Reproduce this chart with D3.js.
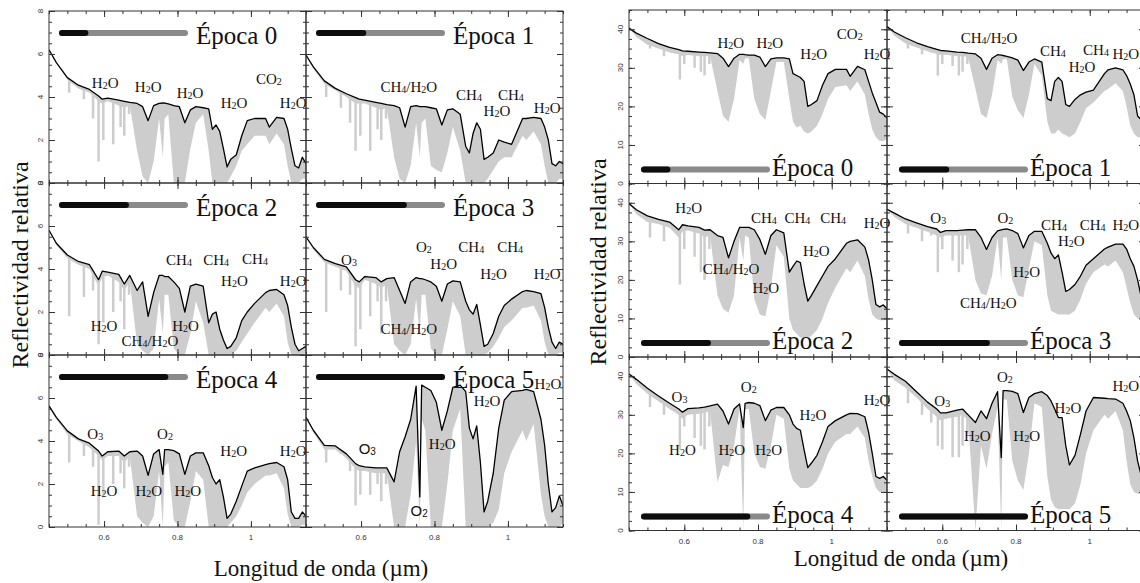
<!DOCTYPE html>
<html>
<head>
<meta charset="utf-8">
<script src="https://cdn.jsdelivr.net/npm/d3@7"></script>
<style>
  body { margin: 0; background: #fff; }
</style>
</head>
<body>
<div id="chart"></div>
<script>
var width = 1140, height = 583;

// wavelength grid (µm) shared by every spectrum
const wl = [0.45, 0.47, 0.50, 0.53, 0.56, 0.585, 0.595, 0.61, 0.64, 0.655, 0.67, 0.69, 0.705, 0.72, 0.735, 0.75, 0.76, 0.765, 0.775, 0.79,
            0.805, 0.82, 0.835, 0.85, 0.87, 0.885, 0.895, 0.905, 0.915, 0.925, 0.935, 0.945, 0.96, 0.975, 0.99, 1.01, 1.04, 1.05, 1.07, 1.09,
            1.10, 1.11, 1.12, 1.13, 1.14, 1.15];

const epochNames = ["Época 0", "Época 1", "Época 2", "Época 3", "Época 4", "Época 5"];
const epochDone = [0.19, 0.36, 0.52, 0.69, 0.84, 1.0]; // black part of the time bar

// left figure: smoothed spectrum (black) and low envelope of the high-res one (grey)
const leftLine0 = [6.2, 5.6, 4.9, 4.55, 4.35, 4.05, 3.9, 3.95, 3.85, 3.8, 3.75, 3.7, 3.55, 2.9, 3.6, 3.7, 3.72, 3.72, 3.68, 3.6, 3.55, 2.8, 3.4, 3.55, 3.5, 3.45, 2.5, 2.7, 2.4, 1.6, 0.75, 1.1, 1.3, 2.2, 2.9, 3.0, 3.0, 2.6, 3.05, 3.0, 2.5, 1.6, 0.8, 0.7, 1.2, 0.9];
const leftLow0  = [6.2, 5.6, 4.8, 4.4, 4.2, 3.8, 3.7, 3.8, 3.6, 3.5, 3.6, 1.5, 0.3, 0.0, 1.0, 3.0, 1.2, 3.0, 3.2, 0.0, 0.0, 0.0, 1.6, 2.8, 3.2, 1.5, 0.0, 0.0, 0.0, 0.0, 0.0, 0.3, 0.8, 1.5, 1.8, 2.2, 2.2, 1.8, 2.3, 1.8, 0.8, 0.0, 0.0, 0.0, 0.2, 0.2];
const leftLine1 = [5.95, 5.4, 4.75, 4.4, 4.15, 3.97, 3.9, 3.85, 3.75, 3.7, 3.65, 3.6, 3.5, 2.6, 3.55, 3.6, 3.55, 3.55, 3.55, 3.5, 3.45, 2.7, 3.4, 3.45, 3.2, 1.7, 1.4, 2.3, 2.8, 2.5, 1.1, 1.2, 1.4, 2.0, 1.9, 1.8, 3.0, 3.0, 3.05, 3.0, 2.6, 2.0, 0.9, 0.8, 1.0, 0.9];
const leftLow1  = [5.95, 5.3, 4.6, 4.3, 4.0, 3.7, 3.7, 3.7, 3.5, 3.4, 3.5, 1.2, 0.2, 0.0, 0.8, 2.8, 1.2, 2.8, 3.0, 0.8, 0.6, 0.5, 1.4, 2.6, 1.5, 0.0, 0.0, 0.0, 0.0, 0.0, 0.0, 0.2, 0.6, 1.0, 1.2, 1.2, 2.2, 2.0, 2.4, 1.8, 0.8, 0.0, 0.0, 0.0, 0.2, 0.2];
const leftLine2 = [5.8, 5.2, 4.65, 4.35, 4.2, 3.5, 3.9, 3.85, 3.75, 3.3, 3.7, 3.0, 3.4, 1.8, 2.9, 3.7, 3.7, 3.65, 3.65, 3.4, 3.1, 2.0, 3.2, 3.3, 3.2, 1.5, 1.9, 2.0, 1.2, 0.7, 0.3, 0.4, 0.8, 1.6, 2.0, 2.4, 2.9, 3.0, 3.05, 2.8, 2.3, 1.3, 0.5, 0.2, 0.3, 0.4];
const leftLow2  = [5.8, 5.1, 4.5, 4.2, 4.0, 3.2, 3.6, 3.7, 3.4, 3.0, 3.4, 0.5, 0.2, 0.0, 0.3, 2.6, 1.0, 2.8, 2.8, 0.3, 0.0, 0.0, 1.0, 2.5, 1.5, 0.0, 0.0, 0.0, 0.0, 0.0, 0.0, 0.0, 0.2, 0.6, 1.0, 1.5, 2.2, 2.0, 2.4, 1.8, 0.6, 0.0, 0.0, 0.0, 0.0, 0.1];
const leftLine3 = [5.5, 5.0, 4.45, 4.25, 4.1, 3.5, 3.4, 3.65, 3.6, 3.4, 3.55, 3.6, 3.0, 2.4, 3.4, 3.6, 3.55, 3.55, 3.5, 3.4, 3.2, 2.5, 3.3, 3.45, 3.4, 2.5, 2.1, 1.9, 2.35, 1.4, 0.4, 0.5, 1.0, 1.8, 2.3, 2.6, 2.95, 3.0, 2.95, 2.85, 2.2, 1.3, 0.6, 0.3, 0.6, 0.5];
const leftLow3  = [5.5, 4.9, 4.3, 4.1, 3.9, 3.2, 3.1, 3.5, 3.3, 3.1, 3.3, 0.5, 0.2, 0.0, 0.5, 2.6, 1.0, 2.8, 2.8, 0.3, 0.0, 0.0, 1.2, 2.5, 1.8, 0.0, 0.0, 0.0, 0.0, 0.0, 0.0, 0.1, 0.4, 0.8, 1.3, 1.6, 2.2, 2.2, 2.3, 1.6, 0.6, 0.0, 0.0, 0.0, 0.1, 0.1];
const leftLine4 = [5.63, 5.1, 4.47, 4.1, 3.9, 3.53, 3.3, 3.5, 3.53, 3.3, 3.5, 3.53, 3.3, 2.4, 3.4, 3.6, 2.45, 3.6, 3.6, 3.55, 3.4, 2.45, 3.3, 3.45, 3.45, 2.85, 2.3, 2.0, 2.2, 1.4, 0.4, 0.6, 1.2, 1.9, 2.6, 2.75, 2.9, 2.95, 3.0, 2.8, 2.2, 0.7, 0.4, 0.4, 0.7, 0.5];
const leftLow4  = [5.63, 5.0, 4.3, 4.0, 3.7, 3.3, 3.1, 3.3, 3.3, 3.0, 3.3, 0.5, 0.2, 0.0, 0.5, 2.6, 0.0, 2.8, 3.0, 0.3, 0.0, 0.0, 1.2, 2.6, 2.2, 0.0, 0.0, 0.0, 0.0, 0.0, 0.0, 0.2, 0.5, 1.0, 1.6, 2.0, 2.4, 2.4, 2.5, 1.8, 0.6, 0.0, 0.0, 0.0, 0.1, 0.1];
const leftLine5 = [5.1, 4.5, 3.8, 3.77, 3.4, 2.95, 2.85, 2.8, 2.75, 2.75, 2.75, 2.1, 3.5, 4.2, 5.0, 6.55, 1.4, 6.6, 6.5, 6.35, 5.8, 4.5, 5.4, 6.5, 6.6, 6.3, 4.6, 4.1, 4.7, 3.0, 0.7, 1.2, 2.5, 4.6, 5.9, 6.3, 6.35, 6.4, 6.3, 5.0, 3.8, 2.0, 0.7, 0.9, 1.45, 1.0];
const leftLow5  = [5.1, 4.4, 3.6, 3.6, 3.2, 2.7, 2.6, 2.6, 2.5, 2.5, 2.5, 0.0, 0.0, 0.0, 1.5, 4.0, 0.0, 5.0, 4.5, 0.0, 0.0, 0.0, 2.0, 4.5, 5.5, 0.0, 0.0, 0.0, 0.0, 0.0, 0.0, 0.0, 0.2, 0.8, 2.5, 3.5, 4.5, 4.0, 4.8, 1.5, 0.5, 0.0, 0.0, 0.0, 0.0, 0.2];

// narrow absorption lines of the high-res spectrum: wavelengths and depth per epoch
const leftSpikeWl = [0.505, 0.545, 0.57, 0.585, 0.598, 0.625, 0.645, 0.655, 0.668];
const leftSpike0 = [4.2, 3.9, 3.0, 1.0, 2.0, 1.8, 2.6, 2.2, 3.2];
const leftSpike1 = [4.0, 3.5, 2.8, 1.5, 2.2, 1.5, 2.5, 2.0, 3.0];
const leftSpike2 = [1.8, 2.7, 3.0, 0.5, 1.5, 2.0, 2.5, 1.2, 2.8];
const leftSpike3 = [2.0, 3.0, 2.8, 0.4, 1.2, 1.8, 2.5, 1.0, 2.5];
const leftSpike4 = [3.0, 3.3, 2.8, 0.1, 1.5, 2.0, 2.5, 1.8, 2.8];
const leftSpike5 = [3.0, 3.4, 2.6, 1.0, 1.5, 1.5, 2.0, 1.2, 2.0];

// right figure
const rightLine0 = [40.3, 39.0, 37.6, 36.3, 35.3, 34.7, 34.4, 34.3, 34.1, 34.0, 33.9, 33.7, 32.5, 30.3, 32.5, 33.5, 33.5, 33.4, 33.3, 33.3, 32.8, 30.3, 32.3, 32.6, 32.6, 32.3, 28.5, 28.0, 27.5, 26.5, 20.0, 20.5, 21.5, 25.5, 28.5, 29.6, 29.6, 27.8, 30.4, 29.5, 26.5, 23.5, 21.0, 18.5, 18.0, 17.0];
const rightLow0  = [40.3, 38.0, 36.0, 35.0, 34.0, 33.5, 33.0, 33.3, 33.0, 33.0, 33.0, 24.0, 17.5, 16.0, 22.0, 32.0, 31.0, 32.5, 32.5, 22.0, 18.0, 16.5, 24.0, 31.5, 31.5, 22.0, 16.0, 14.5, 15.0, 13.5, 13.0, 13.5, 15.0, 18.0, 22.0, 25.0, 25.5, 24.0, 26.5, 23.0, 18.0, 14.0, 12.0, 11.0, 11.0, 11.5];
const rightLine1 = [40.7, 39.3, 37.8, 36.5, 35.5, 34.8, 34.5, 34.4, 34.1, 34.0, 33.8, 33.6, 32.5, 29.6, 32.5, 33.4, 33.3, 33.2, 33.0, 32.6, 32.0, 29.3, 31.5, 32.3, 31.5, 22.0, 21.5, 26.5, 27.5, 26.5, 20.5, 20.0, 21.8, 23.0, 23.7, 24.2, 28.5, 29.5, 30.0, 29.5, 28.0, 25.8, 23.0, 17.5, 16.5, 16.0];
const rightLow1  = [40.7, 38.3, 36.3, 35.3, 34.3, 33.6, 33.3, 33.4, 33.0, 33.0, 32.8, 24.5, 18.0, 17.0, 23.0, 32.0, 31.0, 32.3, 32.3, 22.5, 19.0, 17.0, 23.0, 31.0, 28.0, 16.0, 13.0, 13.0, 14.0, 13.0, 12.5, 12.0, 13.0, 16.0, 19.5, 21.0, 24.0, 24.5, 26.0, 24.0, 20.0, 15.0, 13.0, 12.0, 12.0, 12.0];
const rightLine2 = [39.8, 38.2, 36.6, 35.7, 35.0, 33.0, 34.3, 34.0, 33.6, 32.9, 33.0, 31.5, 31.0, 25.7, 30.0, 33.6, 33.6, 33.6, 33.6, 33.0, 30.5, 26.6, 31.5, 33.0, 32.2, 22.0, 23.5, 24.9, 24.5, 19.0, 14.5, 16.0, 18.5, 21.0, 23.5, 25.5, 29.5, 30.0, 30.4, 28.5, 25.2, 20.0, 13.6, 13.0, 13.5, 12.5];
const rightLow2  = [39.8, 37.0, 35.0, 34.5, 33.5, 31.0, 32.5, 32.8, 32.0, 31.0, 31.5, 16.0, 12.5, 11.5, 16.0, 31.0, 25.0, 31.5, 31.0, 15.0, 11.0, 10.5, 18.0, 29.0, 26.0, 10.0, 7.0, 6.0, 5.0, 5.0, 5.0, 5.5, 7.0, 10.0, 14.0, 18.0, 23.0, 22.0, 25.0, 21.0, 15.0, 11.0, 10.0, 9.5, 9.5, 10.0];
const rightLine3 = [38.3, 37.3, 35.8, 34.8, 33.8, 33.2, 32.3, 32.8, 32.8, 32.9, 33.0, 33.0, 31.0, 27.9, 31.0, 32.7, 33.0, 33.1, 33.2, 32.8, 32.0, 28.3, 31.5, 32.6, 32.6, 29.5, 27.0, 25.5, 26.5, 22.0, 17.0, 17.5, 18.8, 21.0, 23.8, 25.5, 28.0, 28.5, 29.3, 29.3, 28.0, 25.5, 23.5, 20.0, 15.4, 15.0];
const rightLow3  = [38.3, 36.3, 34.5, 33.5, 32.5, 31.5, 31.0, 31.5, 31.5, 31.5, 31.5, 20.0, 16.5, 16.0, 21.0, 31.0, 20.0, 31.0, 31.0, 20.0, 16.0, 15.5, 23.0, 30.0, 29.0, 16.0, 12.0, 11.5, 11.0, 11.0, 11.0, 11.0, 12.0, 15.0, 19.0, 22.0, 24.0, 23.5, 25.0, 22.0, 18.0, 14.0, 11.0, 10.0, 10.0, 10.0];
const rightLine4 = [40.6, 39.2, 36.9, 34.9, 33.0, 31.5, 30.7, 31.6, 31.8, 32.0, 32.3, 32.8, 31.0, 27.6, 31.5, 32.8, 26.7, 33.0, 33.2, 33.0, 32.4, 28.5, 31.2, 31.9, 31.9, 30.0, 27.6, 26.5, 26.0, 21.0, 16.3, 17.5, 19.5, 23.0, 27.0, 28.5, 30.0, 30.4, 30.3, 29.5, 25.5, 20.0, 14.0, 13.5, 14.0, 13.0];
const rightLow4  = [40.6, 38.0, 35.5, 33.5, 31.5, 30.0, 29.0, 30.0, 30.3, 30.5, 31.0, 12.5, 17.0, 16.5, 22.0, 31.5, 0.0, 31.5, 31.5, 20.0, 16.5, 16.0, 22.0, 30.0, 29.0, 16.0, 13.0, 12.0, 11.0, 11.0, 11.0, 11.5, 13.0, 16.0, 20.0, 23.0, 25.0, 25.0, 27.0, 24.0, 18.0, 14.0, 11.0, 10.0, 10.0, 10.0];
const rightLine5 = [41.9, 40.5, 38.7, 36.0, 33.3, 31.5, 30.5, 30.5, 31.2, 31.5, 30.0, 28.0, 31.0, 29.0, 33.0, 36.0, 18.9, 36.3, 36.3, 36.1, 35.5, 30.6, 34.5, 35.5, 36.0, 35.0, 33.6, 31.5, 29.3, 29.3, 22.0, 17.0, 19.5, 25.0, 31.0, 34.5, 34.3, 34.2, 34.1, 33.0, 31.0, 28.5, 24.0, 18.0, 14.1, 14.0];
const rightLow5  = [41.9, 39.0, 37.0, 34.5, 31.5, 29.5, 28.5, 29.0, 29.5, 30.0, 28.5, 0.0, 22.0, 16.0, 25.0, 32.0, 0.0, 34.0, 34.0, 18.0, 13.0, 10.5, 20.0, 33.0, 32.0, 14.0, 8.0, 6.0, 5.5, 5.5, 5.5, 5.5, 7.0, 12.0, 20.0, 26.0, 30.0, 29.0, 31.0, 26.0, 18.0, 12.0, 10.0, 9.5, 9.5, 10.0];

const rightSpikeWl = [0.507, 0.545, 0.57, 0.588, 0.60, 0.628, 0.645, 0.655, 0.668];
const rightSpike0 = [35.0, 33.0, 34.5, 27.0, 31.0, 30.0, 29.0, 28.0, 31.0];
const rightSpike1 = [35.0, 33.5, 34.0, 28.0, 31.0, 30.5, 28.0, 29.0, 31.0];
const rightSpike2 = [31.0, 30.0, 33.0, 18.8, 28.0, 26.0, 22.0, 20.0, 28.0];
const rightSpike3 = [32.0, 30.0, 31.5, 22.0, 28.0, 25.0, 22.0, 24.0, 28.0];
const rightSpike4 = [32.0, 30.0, 31.0, 21.0, 27.0, 24.0, 22.0, 21.0, 27.0];
const rightSpike5 = [33.0, 30.0, 28.0, 22.0, 21.0, 19.0, 19.0, 22.0, 25.0];

// molecule labels: [panel, wavelength, reflectivity, text]
const leftLabels = [
  [0, 0.603, 4.42, "H2O"], [0, 0.72, 4.23, "H2O"], [0, 0.834, 3.95, "H2O"], [0, 0.954, 3.49, "H2O"], [0, 1.049, 4.6, "CO2"], [0, 1.115, 3.49, "H2O"],
  [1, 0.73, 4.25, "CH4/H2O"], [1, 0.894, 3.86, "CH4"], [1, 0.97, 3.12, "H2O"], [1, 1.008, 3.86, "CH4"], [1, 1.107, 3.25, "H2O"],
  [2, 0.804, 4.19, "CH4"], [2, 0.905, 4.19, "CH4"], [2, 1.011, 4.23, "CH4"], [2, 0.955, 3.19, "H2O"], [2, 1.115, 3.19, "H2O"],
  [2, 0.60, 1.13, "H2O"], [2, 0.725, 0.43, "CH4/H2O"], [2, 0.822, 1.13, "H2O"],
  [3, 0.567, 4.19, "O3"], [3, 0.771, 4.78, "O2"], [3, 0.90, 4.78, "CH4"], [3, 1.006, 4.78, "CH4"], [3, 0.825, 4.0, "H2O"],
  [3, 0.961, 3.53, "H2O"], [3, 1.107, 3.53, "H2O"], [3, 0.73, 0.98, "CH4/H2O"],
  [4, 0.576, 4.08, "O3"], [4, 0.766, 4.08, "O2"], [4, 0.953, 3.3, "H2O"], [4, 1.115, 3.3, "H2O"],
  [4, 0.60, 1.44, "H2O"], [4, 0.722, 1.44, "H2O"], [4, 0.828, 1.44, "H2O"],
  [5, 0.821, 3.65, "H2O"], [5, 0.943, 5.63, "H2O"], [5, 1.109, 6.44, "H2O"]
];
const leftSansLabels = [[5, 0.617, 3.38, "O3"], [5, 0.758, 0.51, "O2"]];
const rightLabels = [
  [0, 0.726, 35.1, "H2O"], [0, 0.832, 35.1, "H2O"], [0, 0.951, 32.2, "H2O"], [0, 1.049, 37.4, "CO2"], [0, 1.123, 32.2, "H2O"],
  [1, 0.727, 36.4, "CH4/H2O"], [1, 0.90, 33.1, "CH4"], [1, 0.979, 29.0, "H2O"], [1, 1.017, 33.3, "CH4"], [1, 1.098, 32.2, "H2O"],
  [2, 0.612, 37.4, "H2O"], [2, 0.816, 34.8, "CH4"], [2, 0.907, 34.8, "CH4"], [2, 1.004, 34.8, "CH4"], [2, 1.123, 33.5, "H2O"],
  [2, 0.958, 26.1, "H2O"], [2, 0.727, 21.5, "CH4/H2O"], [2, 0.821, 16.7, "H2O"],
  [3, 0.589, 34.8, "O3"], [3, 0.771, 34.8, "O2"], [3, 0.903, 32.9, "CH4"], [3, 1.008, 32.9, "CH4"], [3, 1.098, 32.9, "H2O"],
  [3, 0.95, 28.9, "H2O"], [3, 0.829, 20.8, "H2O"], [3, 0.725, 12.7, "CH4/H2O"],
  [4, 0.587, 33.4, "O3"], [4, 0.775, 35.8, "O2"], [4, 0.949, 28.6, "H2O"], [4, 1.123, 32.6, "H2O"],
  [4, 0.595, 19.5, "H2O"], [4, 0.729, 19.5, "H2O"], [4, 0.829, 19.5, "H2O"],
  [5, 0.60, 32.4, "O3"], [5, 0.77, 38.5, "O2"], [5, 0.941, 30.6, "H2O"], [5, 1.098, 36.3, "H2O"], [5, 0.695, 23.3, "H2O"], [5, 0.829, 23.3, "H2O"]
];

const xTicks = [0.6, 0.8, 1];
const yTitle = "Reflectividad relativa";
const xTitle = "Longitud de onda (µm)";

const serif = "'Liberation Serif', 'Times New Roman', serif";
const sans = "'Liberation Sans', Arial, sans-serif";

const figures = [
  { cols: [49, 306], w: 257, rows: [11, 183, 355], h: 172, ymax: 8, yMajor: [0, 2, 4, 6, 8], yStep: 0.5,
    lines: [leftLine0, leftLine1, leftLine2, leftLine3, leftLine4, leftLine5],
    lows: [leftLow0, leftLow1, leftLow2, leftLow3, leftLow4, leftLow5],
    spikeWl: leftSpikeWl,
    spikes: [leftSpike0, leftSpike1, leftSpike2, leftSpike3, leftSpike4, leftSpike5],
    labels: leftLabels, sansLabels: leftSansLabels, barOnTop: true,
    yTitleX: 28, yTitleY: 265, xTitleX: 321, xTitleY: 576 },
  { cols: [629, 887], w: 258, rows: [10, 183.5, 357], h: 173.5, ymax: 45, yMajor: [0, 10, 20, 30, 40], yStep: 2.5,
    lines: [rightLine0, rightLine1, rightLine2, rightLine3, rightLine4, rightLine5],
    lows: [rightLow0, rightLow1, rightLow2, rightLow3, rightLow4, rightLow5],
    spikeWl: rightSpikeWl,
    spikes: [rightSpike0, rightSpike1, rightSpike2, rightSpike3, rightSpike4, rightSpike5],
    labels: rightLabels, sansLabels: [], barOnTop: false,
    yTitleX: 606, yTitleY: 262, xTitleX: 901, xTitleY: 566 }
];

const svg = d3.select("#chart").append("svg")
    .attr("width", width)
    .attr("height", height)
    .style("background", "#fff");

function chemText(g, txt, x, y, font) {
  const t = g.append("text")
      .attr("x", x).attr("y", y)
      .attr("text-anchor", "middle")
      .attr("font-family", font)
      .attr("font-size", 15)
      .attr("fill", "#111");
  let sub = false;
  txt.split(/(\d)/).forEach(function(part) {
    if (!part) return;
    if (/\d/.test(part)) {
      t.append("tspan").attr("font-size", 10).attr("dy", 1).text(part);
      sub = true;
    } else {
      const s = t.append("tspan").text(part);
      if (sub) s.attr("dy", -1);
      sub = false;
    }
  });
}

const grey = "#cdcdcd";

figures.forEach(function(fig, fi) {
  const x = d3.scaleLinear().domain([0.45, 1.15]).range([0, fig.w]);
  const y = d3.scaleLinear().domain([0, fig.ymax]).range([fig.h, 0]);

  const xMinor = d3.range(9, 24).map(k => k * 0.05);
  const yMinor = d3.range(0, fig.ymax + 0.001, fig.yStep);

  for (let p = 0; p < 6; p++) {
    const col = p % 2, row = Math.floor(p / 2);
    const g = svg.append("g")
        .attr("transform", "translate(" + fig.cols[col] + "," + fig.rows[row] + ")");

    const clipId = "clip" + fi + "_" + p;
    g.append("clipPath").attr("id", clipId)
      .append("rect").attr("width", fig.w).attr("height", fig.h);

    const line = fig.lines[p], low = fig.lows[p];
    const idx = d3.range(wl.length);
    const lineAt = d3.scaleLinear().domain(wl).range(line);

    const plot = g.append("g").attr("clip-path", "url(#" + clipId + ")");

    const area = d3.area()
        .x(i => x(wl[i]))
        .y0(i => y(low[i]))
        .y1(i => y(Math.max(line[i], low[i])));
    plot.append("path")
        .attr("d", area(idx))
        .attr("fill", grey);

    plot.selectAll("line.spike")
      .data(fig.spikeWl.map((w, k) => [w, fig.spikes[p][k]]))
      .join("line")
        .attr("class", "spike")
        .attr("x1", d => x(d[0])).attr("x2", d => x(d[0]))
        .attr("y1", d => y(lineAt(d[0])))
        .attr("y2", d => y(d[1]))
        .attr("stroke", grey)
        .attr("stroke-width", 2.5);

    const spec = d3.line()
        .x(i => x(wl[i]))
        .y(i => y(line[i]));
    plot.append("path")
        .attr("d", spec(idx))
        .attr("fill", "none")
        .attr("stroke", "#000")
        .attr("stroke-width", 1.3)
        .attr("stroke-linejoin", "round");

    // inward ticks on the four sides
    const tick = function(axis, vals, size) {
      return axis.tickValues(vals).tickSize(-size).tickSizeOuter(0).tickFormat("");
    };
    g.append("g").call(tick(d3.axisLeft(y), yMinor, 3));
    g.append("g").call(tick(d3.axisLeft(y), fig.yMajor, 6));
    g.append("g").attr("transform", "translate(" + fig.w + ",0)").call(tick(d3.axisRight(y), yMinor, 3));
    g.append("g").attr("transform", "translate(" + fig.w + ",0)").call(tick(d3.axisRight(y), fig.yMajor, 6));
    g.append("g").call(tick(d3.axisTop(x), xMinor, 3));
    g.append("g").call(tick(d3.axisTop(x), xTicks, 6));
    g.append("g").attr("transform", "translate(0," + fig.h + ")").call(tick(d3.axisBottom(x), xMinor, 3));
    g.append("g").attr("transform", "translate(0," + fig.h + ")").call(tick(d3.axisBottom(x), xTicks, 6));
    g.selectAll(".domain").remove();
    g.selectAll(".tick line").attr("stroke", "#333");

    g.append("rect")
        .attr("width", fig.w).attr("height", fig.h)
        .attr("fill", "none").attr("stroke", "#333").attr("stroke-width", 1);

    if (col === 0) {
      fig.yMajor.forEach(function(v) {
        g.append("text")
            .attr("transform", "translate(-6," + y(v) + ") rotate(-90)")
            .attr("text-anchor", "middle")
            .attr("font-family", sans).attr("font-size", 8)
            .attr("fill", "#333")
            .text(v);
      });
    }
    if (row === 2) {
      xTicks.forEach(function(v) {
        g.append("text")
            .attr("x", x(v)).attr("y", fig.h + 13)
            .attr("text-anchor", "middle")
            .attr("font-family", sans).attr("font-size", 8)
            .attr("fill", "#333")
            .text(v);
      });
    }

    // molecule labels
    fig.labels.filter(d => d[0] === p).forEach(function(d) {
      chemText(g, d[3], x(d[1]), y(d[2]), serif);
    });
    fig.sansLabels.filter(d => d[0] === p).forEach(function(d) {
      chemText(g, d[3], x(d[1]), y(d[2]), sans);
    });

    // time bar and epoch name
    const barY = fig.barOnTop ? 22 : fig.h - 14;
    const bx0 = fig.barOnTop ? 13 : 15, bx1 = fig.barOnTop ? 136 : 138;
    g.append("line")
        .attr("x1", bx0).attr("x2", bx1).attr("y1", barY).attr("y2", barY)
        .attr("stroke", "#8a8a8a").attr("stroke-width", 6).attr("stroke-linecap", "round");
    g.append("line")
        .attr("x1", bx0).attr("x2", bx0 + epochDone[p] * (bx1 - bx0)).attr("y1", barY).attr("y2", barY)
        .attr("stroke", "#0d0d0d").attr("stroke-width", 6).attr("stroke-linecap", "round");
    g.append("text")
        .attr("x", fig.barOnTop ? 147 : 143)
        .attr("y", fig.barOnTop ? 33 : fig.h - 8)
        .attr("font-family", serif).attr("font-size", 25)
        .attr("fill", "#111")
        .text(epochNames[p]);
  }

  svg.append("text")
      .attr("transform", "translate(" + fig.yTitleX + "," + fig.yTitleY + ") rotate(-90)")
      .attr("text-anchor", "middle")
      .attr("font-family", serif).attr("font-size", 24)
      .attr("fill", "#111")
      .text(yTitle);
  svg.append("text")
      .attr("x", fig.xTitleX).attr("y", fig.xTitleY)
      .attr("text-anchor", "middle")
      .attr("font-family", serif).attr("font-size", 23)
      .attr("fill", "#111")
      .text(xTitle);
});
</script>
</body>
</html>
